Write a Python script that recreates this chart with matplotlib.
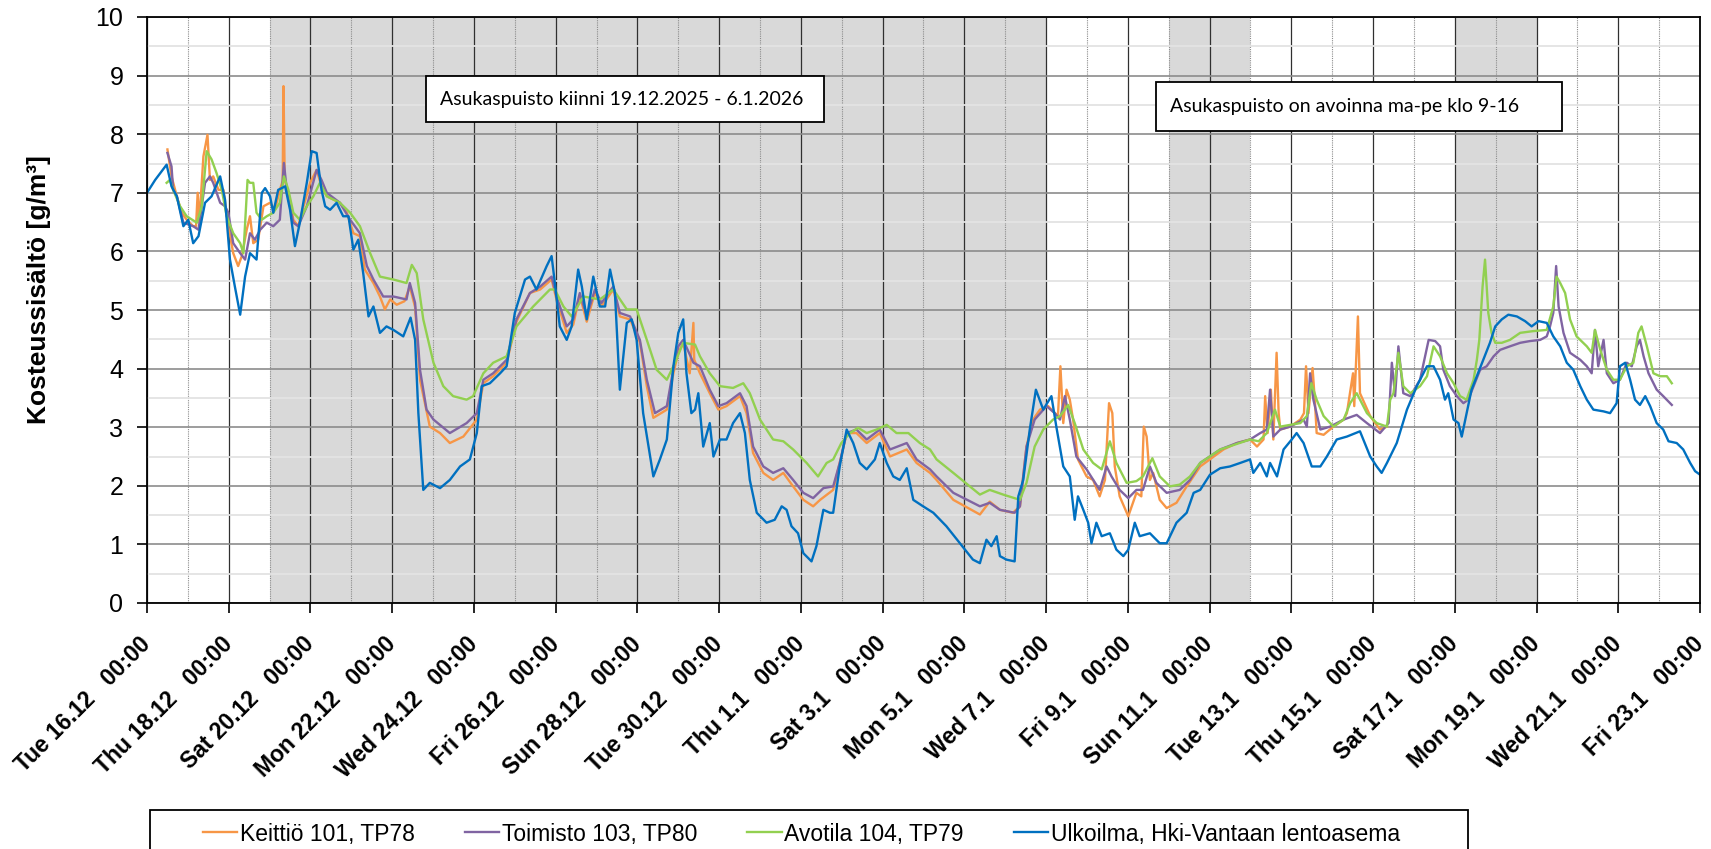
import matplotlib
matplotlib.use("Agg")
import matplotlib.pyplot as plt
from matplotlib.patches import Rectangle
from matplotlib.ticker import MultipleLocator

# (days since Tue 16.12.2025 00:00, moisture content g/m3)
keittio = [
    (0.50, 7.74), (0.60, 7.28), (0.73, 6.94), (0.85, 6.66), (0.97, 6.54), (1.13, 6.43),
    (1.20, 6.43), (1.24, 7.00), (1.28, 6.50), (1.38, 7.62), (1.48, 7.99), (1.54, 7.22),
    (1.62, 7.28), (1.75, 7.05), (1.87, 7.05), (1.99, 6.43), (2.11, 5.97), (2.23, 5.75),
    (2.32, 5.92), (2.44, 6.37), (2.52, 6.60), (2.60, 6.14), (2.72, 6.20), (2.85, 6.77),
    (3.01, 6.83), (3.13, 6.71), (3.25, 7.05), (3.32, 7.20), (3.34, 8.82), (3.37, 7.22),
    (3.46, 7.00), (3.58, 6.54), (3.70, 6.43), (3.83, 6.77), (3.99, 7.17), (4.15, 7.39),
    (4.27, 7.11), (4.40, 6.94), (4.72, 6.83), (4.89, 6.66), (5.05, 6.31), (5.21, 6.26),
    (5.33, 5.69), (5.54, 5.46), (5.70, 5.23), (5.82, 5.01), (5.95, 5.18), (6.11, 5.09),
    (6.30, 5.15), (6.43, 5.40), (6.56, 5.05), (6.68, 3.81), (6.92, 3.01), (7.17, 2.90),
    (7.41, 2.73), (7.74, 2.84), (8.07, 3.13), (8.23, 3.75), (8.47, 3.87), (8.80, 4.10),
    (9.04, 4.80), (9.37, 5.29), (9.62, 5.35), (9.90, 5.52), (10.02, 5.18), (10.27, 4.61),
    (10.43, 4.75), (10.59, 5.25), (10.76, 4.80), (10.96, 5.30), (11.12, 5.06), (11.41, 5.35),
    (11.57, 4.89), (11.82, 4.84), (12.06, 4.45), (12.23, 3.70), (12.39, 3.16), (12.72, 3.30),
    (12.88, 3.92), (13.00, 4.27), (13.12, 4.44), (13.28, 3.92), (13.37, 4.78), (13.39, 4.15),
    (13.53, 3.92), (13.77, 3.58), (13.98, 3.30), (14.18, 3.36), (14.51, 3.53), (14.67, 3.24),
    (14.83, 2.56), (15.08, 2.22), (15.32, 2.10), (15.57, 2.22), (15.81, 1.99), (16.06, 1.76),
    (16.30, 1.65), (16.47, 1.76), (16.79, 1.93), (16.95, 2.39), (17.12, 2.90), (17.36, 2.90),
    (17.61, 2.73), (17.93, 2.90), (18.18, 2.50), (18.59, 2.62), (18.83, 2.39), (19.16, 2.22),
    (19.32, 2.10), (19.73, 1.76), (20.38, 1.51), (20.62, 1.73), (20.87, 1.59), (21.19, 1.54),
    (21.36, 1.65), (21.52, 2.67), (21.68, 3.13), (21.85, 3.30), (22.05, 3.36), (22.29, 3.19),
    (22.35, 4.04), (22.42, 3.07), (22.50, 3.64), (22.58, 3.47), (22.66, 3.13), (22.78, 2.45),
    (22.99, 2.16), (23.15, 2.10), (23.31, 1.82), (23.44, 2.10), (23.54, 3.41), (23.62, 3.24),
    (23.68, 2.33), (23.80, 1.82), (24.01, 1.48), (24.21, 1.88), (24.33, 1.82), (24.39, 3.01),
    (24.46, 2.84), (24.54, 2.10), (24.62, 2.22), (24.78, 1.76), (24.95, 1.62), (25.19, 1.71),
    (25.44, 1.99), (25.77, 2.33), (26.34, 2.62), (26.67, 2.73), (26.99, 2.79), (27.16, 2.67),
    (27.32, 2.79), (27.36, 3.53), (27.42, 2.90), (27.50, 3.64), (27.56, 2.79), (27.64, 4.27),
    (27.69, 3.24), (27.73, 2.96), (27.97, 3.01), (28.22, 3.13), (28.31, 3.24), (28.36, 4.04),
    (28.42, 3.24), (28.52, 4.01), (28.58, 3.41), (28.62, 2.90), (28.79, 2.87), (29.03, 3.01),
    (29.28, 3.13), (29.36, 3.24), (29.51, 3.92), (29.54, 3.36), (29.63, 4.89), (29.68, 3.58),
    (29.93, 3.19), (30.17, 2.96), (30.34, 3.01),
]
toimisto = [
    (0.50, 7.68), (0.60, 7.45), (0.64, 7.05), (0.73, 6.94), (0.89, 6.49), (1.13, 6.43),
    (1.26, 6.37), (1.42, 7.17), (1.54, 7.28), (1.62, 7.17), (1.79, 6.83), (1.91, 6.77),
    (1.99, 6.66), (2.11, 6.14), (2.28, 5.97), (2.40, 5.86), (2.52, 6.31), (2.64, 6.20),
    (2.77, 6.37), (2.93, 6.49), (3.09, 6.43), (3.25, 6.54), (3.35, 7.51), (3.42, 7.05),
    (3.58, 6.49), (3.70, 6.43), (3.91, 6.77), (4.15, 7.39), (4.27, 7.22), (4.40, 7.00),
    (4.72, 6.83), (4.97, 6.54), (5.21, 6.31), (5.38, 5.75), (5.54, 5.52), (5.78, 5.23),
    (6.03, 5.23), (6.35, 5.18), (6.43, 5.46), (6.56, 5.12), (6.68, 3.98), (6.84, 3.30),
    (7.01, 3.13), (7.41, 2.90), (7.82, 3.07), (8.07, 3.24), (8.23, 3.81), (8.47, 3.92),
    (8.80, 4.15), (9.04, 4.84), (9.37, 5.29), (9.62, 5.40), (9.90, 5.57), (10.02, 5.23),
    (10.27, 4.72), (10.43, 4.84), (10.59, 5.29), (10.76, 4.89), (10.96, 5.35), (11.12, 5.12),
    (11.41, 5.40), (11.57, 4.95), (11.82, 4.89), (12.06, 4.49), (12.23, 3.81), (12.43, 3.24),
    (12.72, 3.36), (12.88, 4.00), (13.00, 4.38), (13.12, 4.49), (13.37, 4.10), (13.53, 4.04),
    (13.77, 3.64), (13.98, 3.36), (14.18, 3.41), (14.51, 3.58), (14.67, 3.36), (14.83, 2.67),
    (15.08, 2.33), (15.32, 2.22), (15.57, 2.30), (15.81, 2.10), (16.06, 1.88), (16.30, 1.79),
    (16.55, 1.96), (16.79, 1.99), (16.95, 2.39), (17.12, 2.90), (17.36, 2.96), (17.61, 2.79),
    (17.93, 2.96), (18.18, 2.62), (18.59, 2.73), (18.83, 2.45), (19.16, 2.28), (19.32, 2.16),
    (19.73, 1.88), (20.38, 1.65), (20.62, 1.71), (20.87, 1.59), (21.23, 1.54), (21.36, 1.65),
    (21.52, 2.67), (21.72, 3.13), (22.01, 3.36), (22.21, 3.24), (22.34, 3.13), (22.46, 3.53),
    (22.58, 3.13), (22.74, 2.50), (22.99, 2.28), (23.31, 1.93), (23.48, 2.33), (23.60, 2.16),
    (23.80, 1.93), (24.01, 1.79), (24.21, 1.93), (24.37, 1.93), (24.54, 2.33), (24.70, 2.05),
    (24.95, 1.88), (25.27, 1.93), (25.52, 2.10), (25.77, 2.39), (26.26, 2.62), (26.67, 2.73),
    (26.99, 2.79), (27.24, 2.90), (27.40, 2.96), (27.48, 3.64), (27.56, 2.84), (27.73, 2.96),
    (27.97, 3.01), (28.30, 3.13), (28.38, 3.01), (28.46, 3.92), (28.54, 3.47), (28.71, 2.96),
    (28.95, 3.01), (29.28, 3.13), (29.60, 3.21), (29.85, 3.07), (30.17, 2.90), (30.38, 3.07),
    (30.46, 4.10), (30.54, 3.53), (30.62, 4.38), (30.74, 3.58), (30.91, 3.53), (31.15, 3.81),
    (31.36, 4.49), (31.52, 4.47), (31.64, 4.38), (31.72, 3.98), (31.88, 3.70), (32.05, 3.53),
    (32.21, 3.41), (32.33, 3.47), (32.46, 3.70), (32.62, 3.98), (32.78, 4.04), (32.95, 4.21),
    (33.11, 4.32), (33.35, 4.38), (33.60, 4.44), (33.84, 4.47), (34.09, 4.49), (34.25, 4.55),
    (34.33, 4.72), (34.41, 4.95), (34.48, 5.75), (34.54, 5.06), (34.66, 4.61), (34.82, 4.27),
    (35.07, 4.15), (35.23, 4.04), (35.35, 3.92), (35.43, 4.66), (35.51, 4.04), (35.64, 4.49),
    (35.72, 3.92), (35.88, 3.75), (36.04, 3.81), (36.21, 4.10), (36.33, 4.04), (36.45, 4.38),
    (36.53, 4.49), (36.62, 4.21), (36.74, 3.92), (36.94, 3.64), (37.10, 3.53), (37.31, 3.38),
]
avotila = [
    (0.48, 7.17), (0.56, 7.22), (0.64, 7.05), (0.81, 6.77), (0.97, 6.60), (1.22, 6.49),
    (1.34, 6.77), (1.46, 7.71), (1.58, 7.57), (1.70, 7.34), (1.83, 7.05), (1.95, 6.60),
    (2.11, 6.31), (2.28, 6.14), (2.36, 5.97), (2.46, 7.22), (2.52, 7.17), (2.60, 7.17),
    (2.68, 6.66), (2.81, 6.54), (2.93, 6.60), (3.09, 6.66), (3.25, 6.83), (3.35, 7.28),
    (3.46, 7.05), (3.58, 6.66), (3.74, 6.54), (3.91, 6.77), (4.07, 6.94), (4.23, 7.17),
    (4.40, 6.94), (4.72, 6.83), (4.97, 6.66), (5.21, 6.43), (5.46, 5.97), (5.70, 5.57),
    (6.03, 5.52), (6.35, 5.46), (6.48, 5.77), (6.60, 5.63), (6.76, 4.84), (7.01, 4.10),
    (7.25, 3.70), (7.49, 3.53), (7.82, 3.47), (7.98, 3.53), (8.23, 3.92), (8.47, 4.10),
    (8.80, 4.21), (9.04, 4.72), (9.45, 5.06), (9.86, 5.35), (9.98, 5.35), (10.19, 5.06),
    (10.39, 4.89), (10.68, 5.23), (11.08, 5.18), (11.41, 5.35), (11.74, 5.01), (11.98, 5.01),
    (12.23, 4.49), (12.47, 3.98), (12.72, 3.81), (12.92, 4.10), (13.12, 4.44), (13.41, 4.41),
    (13.53, 4.21), (13.77, 3.92), (14.02, 3.70), (14.34, 3.67), (14.59, 3.75), (14.75, 3.58),
    (15.00, 3.13), (15.32, 2.79), (15.57, 2.76), (15.81, 2.62), (16.14, 2.39), (16.42, 2.16),
    (16.63, 2.39), (16.79, 2.45), (16.99, 2.73), (17.20, 2.90), (17.40, 2.99), (17.61, 2.90),
    (17.85, 2.96), (18.10, 3.04), (18.34, 2.90), (18.63, 2.90), (18.91, 2.73), (19.16, 2.62),
    (19.32, 2.45), (19.73, 2.22), (20.38, 1.85), (20.62, 1.93), (20.95, 1.85), (21.36, 1.76),
    (21.52, 2.05), (21.72, 2.67), (21.93, 2.96), (22.17, 3.13), (22.34, 3.19), (22.54, 3.38),
    (22.70, 3.07), (22.91, 2.62), (23.15, 2.39), (23.36, 2.28), (23.56, 2.76), (23.72, 2.39),
    (23.97, 2.05), (24.21, 2.08), (24.37, 2.16), (24.60, 2.47), (24.78, 2.16), (25.03, 1.99),
    (25.27, 2.02), (25.52, 2.16), (25.77, 2.39), (26.26, 2.62), (26.99, 2.79), (27.20, 2.76),
    (27.40, 2.90), (27.60, 3.30), (27.73, 3.01), (27.97, 3.04), (28.22, 3.07), (28.38, 3.19),
    (28.49, 3.75), (28.62, 3.47), (28.79, 3.19), (29.03, 3.01), (29.28, 3.13), (29.44, 3.41),
    (29.60, 3.58), (29.85, 3.24), (30.09, 3.07), (30.34, 3.01), (30.42, 3.47), (30.50, 3.58),
    (30.62, 4.27), (30.74, 3.70), (30.91, 3.58), (31.15, 3.70), (31.32, 3.87), (31.48, 4.38),
    (31.64, 4.21), (31.81, 3.92), (31.97, 3.75), (32.13, 3.53), (32.29, 3.47), (32.46, 3.81),
    (32.54, 4.15), (32.60, 4.49), (32.68, 5.40), (32.74, 5.86), (32.82, 4.95), (32.90, 4.61),
    (32.99, 4.44), (33.15, 4.44), (33.35, 4.49), (33.60, 4.61), (33.92, 4.64), (34.25, 4.66),
    (34.41, 5.06), (34.49, 5.57), (34.58, 5.46), (34.70, 5.29), (34.82, 4.84), (34.98, 4.55),
    (35.23, 4.38), (35.35, 4.27), (35.43, 4.66), (35.56, 4.32), (35.72, 3.98), (35.88, 3.81),
    (36.04, 3.81), (36.21, 4.04), (36.37, 4.10), (36.49, 4.61), (36.57, 4.72), (36.70, 4.38),
    (36.86, 3.92), (37.02, 3.87), (37.19, 3.87), (37.31, 3.75),
]
ulkoilma = [
    (0.00, 7.00), (0.20, 7.22), (0.48, 7.48), (0.60, 7.11), (0.73, 6.94), (0.89, 6.43),
    (1.01, 6.54), (1.13, 6.14), (1.26, 6.26), (1.42, 6.83), (1.58, 6.94), (1.79, 7.28),
    (1.91, 6.88), (2.03, 5.86), (2.15, 5.40), (2.28, 4.92), (2.40, 5.57), (2.52, 5.97),
    (2.68, 5.86), (2.81, 7.00), (2.89, 7.08), (3.01, 6.94), (3.09, 6.66), (3.21, 7.05),
    (3.38, 7.11), (3.50, 6.71), (3.62, 6.09), (3.74, 6.49), (3.91, 7.17), (4.03, 7.71),
    (4.15, 7.68), (4.27, 7.05), (4.36, 6.77), (4.48, 6.71), (4.64, 6.83), (4.80, 6.60),
    (4.93, 6.60), (5.05, 6.03), (5.17, 6.20), (5.29, 5.63), (5.42, 4.89), (5.54, 5.06),
    (5.70, 4.61), (5.86, 4.72), (6.03, 4.66), (6.27, 4.55), (6.45, 4.87), (6.56, 4.49),
    (6.64, 3.24), (6.76, 1.93), (6.92, 2.05), (7.17, 1.96), (7.41, 2.10), (7.66, 2.33),
    (7.90, 2.45), (8.07, 2.90), (8.19, 3.70), (8.39, 3.75), (8.64, 3.92), (8.80, 4.04),
    (9.00, 4.95), (9.25, 5.52), (9.37, 5.57), (9.53, 5.35), (9.78, 5.75), (9.90, 5.92),
    (9.98, 5.46), (10.10, 4.72), (10.27, 4.49), (10.39, 4.72), (10.55, 5.69), (10.64, 5.40),
    (10.76, 4.84), (10.92, 5.57), (11.08, 5.06), (11.21, 5.06), (11.33, 5.69), (11.45, 5.29),
    (11.57, 3.64), (11.74, 4.78), (11.86, 4.84), (11.98, 4.49), (12.14, 3.24), (12.39, 2.16),
    (12.55, 2.45), (12.72, 2.79), (12.88, 4.04), (13.00, 4.61), (13.12, 4.84), (13.20, 3.92),
    (13.32, 3.24), (13.41, 3.30), (13.49, 3.58), (13.61, 2.67), (13.77, 3.07), (13.86, 2.50),
    (14.02, 2.79), (14.18, 2.79), (14.34, 3.07), (14.51, 3.24), (14.63, 2.90), (14.75, 2.10),
    (14.92, 1.54), (15.16, 1.37), (15.36, 1.42), (15.53, 1.65), (15.65, 1.59), (15.77, 1.31),
    (15.93, 1.19), (16.06, 0.85), (16.26, 0.71), (16.38, 0.97), (16.55, 1.59), (16.71, 1.54),
    (16.79, 1.54), (16.95, 2.33), (17.12, 2.96), (17.28, 2.73), (17.44, 2.39), (17.61, 2.28),
    (17.81, 2.45), (17.93, 2.73), (18.10, 2.39), (18.26, 2.16), (18.42, 2.10), (18.59, 2.30),
    (18.75, 1.76), (18.99, 1.65), (19.24, 1.54), (19.56, 1.31), (19.89, 1.02), (20.21, 0.74),
    (20.38, 0.68), (20.54, 1.08), (20.66, 0.97), (20.79, 1.14), (20.87, 0.80), (21.03, 0.74),
    (21.23, 0.71), (21.32, 1.82), (21.44, 2.10), (21.60, 2.96), (21.75, 3.64), (21.93, 3.30),
    (22.13, 3.53), (22.25, 3.01), (22.42, 2.33), (22.58, 2.16), (22.70, 1.42), (22.78, 1.82),
    (22.91, 1.59), (23.03, 1.37), (23.11, 1.02), (23.23, 1.37), (23.36, 1.14), (23.56, 1.19),
    (23.72, 0.91), (23.89, 0.80), (24.01, 0.91), (24.17, 1.37), (24.29, 1.14), (24.54, 1.19),
    (24.78, 1.02), (24.95, 1.02), (25.19, 1.37), (25.44, 1.54), (25.61, 1.88), (25.77, 1.93),
    (26.01, 2.19), (26.26, 2.30), (26.50, 2.33), (26.75, 2.39), (26.99, 2.45), (27.07, 2.22),
    (27.24, 2.39), (27.40, 2.16), (27.48, 2.39), (27.65, 2.16), (27.81, 2.62), (28.01, 2.79),
    (28.13, 2.90), (28.30, 2.73), (28.50, 2.33), (28.71, 2.33), (28.87, 2.50), (29.11, 2.79),
    (29.36, 2.84), (29.68, 2.93), (29.93, 2.50), (30.09, 2.33), (30.21, 2.22), (30.34, 2.39),
    (30.58, 2.73), (30.83, 3.30), (31.07, 3.70), (31.32, 4.04), (31.48, 4.04), (31.64, 3.81),
    (31.76, 3.47), (31.84, 3.58), (31.97, 3.13), (32.09, 3.07), (32.17, 2.84), (32.29, 3.24),
    (32.41, 3.64), (32.54, 3.87), (32.70, 4.15), (32.86, 4.44), (32.99, 4.72), (33.15, 4.84),
    (33.31, 4.92), (33.52, 4.89), (33.72, 4.81), (33.88, 4.72), (34.05, 4.81), (34.25, 4.78),
    (34.41, 4.55), (34.58, 4.38), (34.74, 4.10), (34.90, 3.98), (35.07, 3.70), (35.23, 3.47),
    (35.39, 3.30), (35.64, 3.27), (35.80, 3.24), (35.96, 3.41), (36.04, 4.04), (36.17, 4.10),
    (36.29, 3.81), (36.41, 3.47), (36.53, 3.38), (36.66, 3.53), (36.78, 3.36), (36.94, 3.07),
    (37.10, 2.96), (37.23, 2.76), (37.43, 2.73), (37.59, 2.62), (37.76, 2.39), (37.88, 2.25),
    (38.00, 2.19),
]

NAMES = ["Keittiö 101, TP78", "Toimisto 103, TP80", "Avotila 104, TP79",
         "Ulkoilma, Hki-Vantaan lentoasema"]
COLORS = ["#F79646", "#8064A2", "#92D050", "#0070C0"]
CLOSED = [(3, 22), (25, 27), (32, 34)]  # shaded day ranges (park closed)
DAY_LABELS = ["Tue 16.12", "Thu 18.12", "Sat 20.12", "Mon 22.12", "Wed 24.12",
              "Fri 26.12", "Sun 28.12", "Tue 30.12", "Thu 1.1", "Sat 3.1", "Mon 5.1",
              "Wed 7.1", "Fri 9.1", "Sun 11.1", "Tue 13.1", "Thu 15.1", "Sat 17.1",
              "Mon 19.1", "Wed 21.1", "Fri 23.1"]
NOTE_CLOSED = "Asukaspuisto kiinni 19.12.2025 - 6.1.2026"
NOTE_OPEN = "Asukaspuisto on avoinna ma-pe klo 9-16"

plt.rcParams["font.family"] = ["Liberation Sans", "DejaVu Sans"]
W, H = 1711, 849
fig = plt.figure(figsize=(W / 100, H / 100), dpi=100)
ax = fig.add_axes([147 / W, 1 - 603 / H, (1700 - 147) / W, (603 - 17) / H])

for a, b in CLOSED:
    ax.axvspan(a, b, color="#d9d9d9", lw=0, zorder=0.1)

for data, name, c in zip([keittio, toimisto, avotila, ulkoilma], NAMES, COLORS):
    xs = [p[0] for p in data]
    ys = [p[1] for p in data]
    ax.plot(xs, ys, color=c, lw=1.7, label=name, zorder=2)

ax.set_xlim(0, 38)
ax.set_ylim(0, 10)
ax.xaxis.set_major_locator(MultipleLocator(2))
ax.xaxis.set_minor_locator(MultipleLocator(1))
ax.yaxis.set_major_locator(MultipleLocator(1))
ax.yaxis.set_minor_locator(MultipleLocator(0.5))
ax.set_axisbelow(True)
ax.grid(which="minor", axis="y", color="#e3e3e3", lw=1.3)
ax.grid(which="major", axis="y", color="#8c8c8c", lw=1.2)
ax.grid(which="minor", axis="x", color="#8c8c8c", lw=0.8, ls=(0, (1, 1)))
ax.grid(which="major", axis="x", color="#303030", lw=0.9)

ax.set_xticks(range(0, 39, 2))
ax.set_xticklabels([f"{d}   00:00" for d in DAY_LABELS], rotation=45, ha="right",
                   va="center", rotation_mode="anchor", fontsize=16.5, fontweight="bold")
ax.tick_params(axis="x", which="major", length=7, width=1.2, pad=20)
ax.tick_params(axis="x", which="minor", length=0)
ax.tick_params(axis="y", which="major", length=7, width=1.2, labelsize=18, pad=10)
ax.tick_params(axis="y", which="minor", length=0)
for s in ax.spines.values():
    s.set_color("black")
    s.set_linewidth(1.3)

fig.text(39 / W, 1 - 290 / H, "Kosteussisältö [g/m³]", rotation=90, ha="center",
         va="center", fontsize=19, fontweight="bold")

# note boxes
for (x0, y0, x1, y1), txt in [((426, 76, 824, 122), NOTE_CLOSED),
                              ((1156, 82, 1562, 131), NOTE_OPEN)]:
    fig.patches.append(Rectangle((x0 / W, 1 - y1 / H), (x1 - x0) / W, (y1 - y0) / H,
                                 transform=fig.transFigure, facecolor="white",
                                 edgecolor="black", lw=1.3, zorder=5))
    fig.text((x0 + 14) / W, 1 - (y0 + y1) / 2 / H, txt, ha="left", va="center",
             fontsize=14, family=["Lato", "DejaVu Sans"], zorder=6)

# legend: frame runs off the bottom edge like in the source
fig.patches.append(Rectangle((150 / W, -0.05), (1468 - 150) / W, 0.05 + (849 - 810) / H,
                             transform=fig.transFigure, facecolor="white",
                             edgecolor="black", lw=1.3, zorder=5))
fig.legend(loc="center left", bbox_to_anchor=(203 / W, 1 - 834 / H),
           bbox_transform=fig.transFigure, ncol=4, frameon=False,
           handlelength=1.5, handletextpad=0.1, borderpad=0, borderaxespad=0,
           columnspacing=2.2, prop={"size": 16.5})

fig.savefig("out.png", dpi=100)
